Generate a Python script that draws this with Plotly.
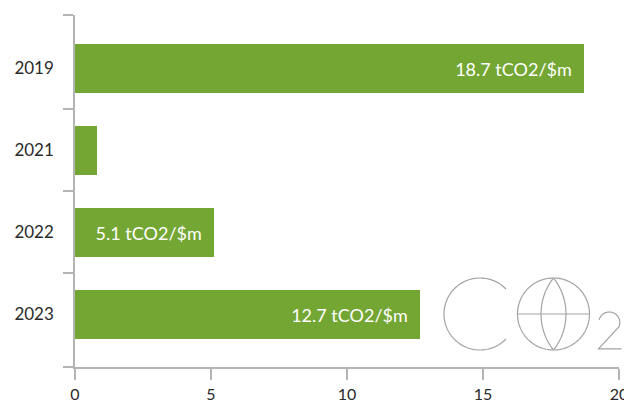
import numpy as np
import plotly.graph_objects as go

# ---- data ----
years = ["2019", "2021", "2022", "2023"]
intensity = [18.7, 0.8, 5.1, 12.7]
value_labels = ["18.7 tCO2/$m", "", "5.1 tCO2/$m", "12.7 tCO2/$m"]
x_ticks = [0, 5, 10, 15, 20]

# ---- layout constants ----
OFF = 8  # page body margin offset
W, H = 632 - OFF, 403 - OFF
ML, MR, MT, MB = 75 - OFF, 13, 15 - OFF, 36
PW, PH = W - ML - MR, H - MT - MB
BAR = "#74A634"
AX = "#b4b4b4"
LOGO = "#a3a3a3"
FONT = "Lato"

pos = list(range(len(years)))
y_range = [3.643, -0.652]

fig = go.Figure()
fig.add_trace(go.Bar(
    x=intensity, y=pos, orientation="h",
    marker=dict(color=BAR, line=dict(width=0)),
    width=0.594,
    text=[(t + "\u00a0\u00a0") if t else "" for t in value_labels],
    textposition="inside", insidetextanchor="end",
    textfont=dict(family=FONT, size=18, color="white"),
    constraintext="none",
    hoverinfo="skip",
))

# ---- CO2 logo (page-pixel geometry -> paper coords) ----
def px(x):
    return (x - OFF - ML) / PW

def py(y):
    return (MT + PH - (y - OFF)) / PH

def path_from(points):
    pts = [f"{px(x):.5f},{py(y):.5f}" for x, y in points]
    return "M" + " L".join(pts)

shapes = []
# "C"
cx, cy, r = 480, 314, 36
a = np.radians(np.linspace(44, 316, 120))
shapes.append(path_from(zip(cx + r * np.cos(a), cy - r * np.sin(a))))
# globe circle
gx, gy, gr = 553.5, 314, 36
a = np.radians(np.linspace(0, 360, 160))
shapes.append(path_from(zip(gx + gr * np.cos(a), gy - gr * np.sin(a))))
# equator
shapes.append(path_from([(gx - gr, gy), (gx + gr, gy)]))
# meridian lens
half, sag = gr, 12.5
R = (half ** 2 + sag ** 2) / (2 * sag)
th = np.arcsin(half / R)
t = np.linspace(-th, th, 60)
for sgn in (1, -1):
    xs = gx + sgn * (R * np.cos(t) - (R - sag))
    ys = gy + R * np.sin(t)
    shapes.append(path_from(zip(xs, ys)))
# subscript "2"
tc_x, tc_y, tr = 609.3, 322.5, 10.5
a = np.radians(np.linspace(165, -25, 60))
arc = list(zip(tc_x + tr * np.cos(a), tc_y - tr * np.sin(a)))
arc += [(598.5, 348.8), (621.5, 348.8)]
shapes.append(path_from(arc))

fig.update_layout(
    shapes=[dict(type="path", path=p, xref="paper", yref="paper",
                 line=dict(color=LOGO, width=1.2), layer="above")
            for p in shapes]
)

fig.update_layout(
    width=W, height=H,
    margin=dict(l=ML, r=MR, t=MT, b=MB, pad=0, autoexpand=False),
    paper_bgcolor="white", plot_bgcolor="white",
    showlegend=False,
    bargap=0,
    xaxis=dict(
        range=[0, 20], tickvals=x_ticks, ticktext=[str(v) for v in x_ticks],
        showgrid=False, zeroline=False, automargin=False,
        showline=True, linecolor=AX, linewidth=1.5,
        ticks="outside", ticklen=11, tickcolor=AX, tickwidth=1.5,
        tickfont=dict(family=FONT, size=16, color="#2a2a2a"),
        ticklabelstandoff=1,
        fixedrange=True,
    ),
    yaxis=dict(
        range=y_range, tickmode="array", tickvals=pos, ticktext=years,
        showgrid=False, zeroline=False, automargin=False,
        showline=True, linecolor=AX, linewidth=1.5,
        ticks="",
        ticklabelstandoff=16,
        tickfont=dict(family=FONT, size=17, color="#2a2a2a"),
        minor=dict(tickmode="array", tickvals=[-0.649, 0.5, 1.5, 2.5, 3.640],
                   ticks="outside", ticklen=10, tickcolor=AX, tickwidth=1.5,
                   showgrid=False),
        fixedrange=True,
    ),
)

fig.write_html("out.html", config={"displayModeBar": False})
